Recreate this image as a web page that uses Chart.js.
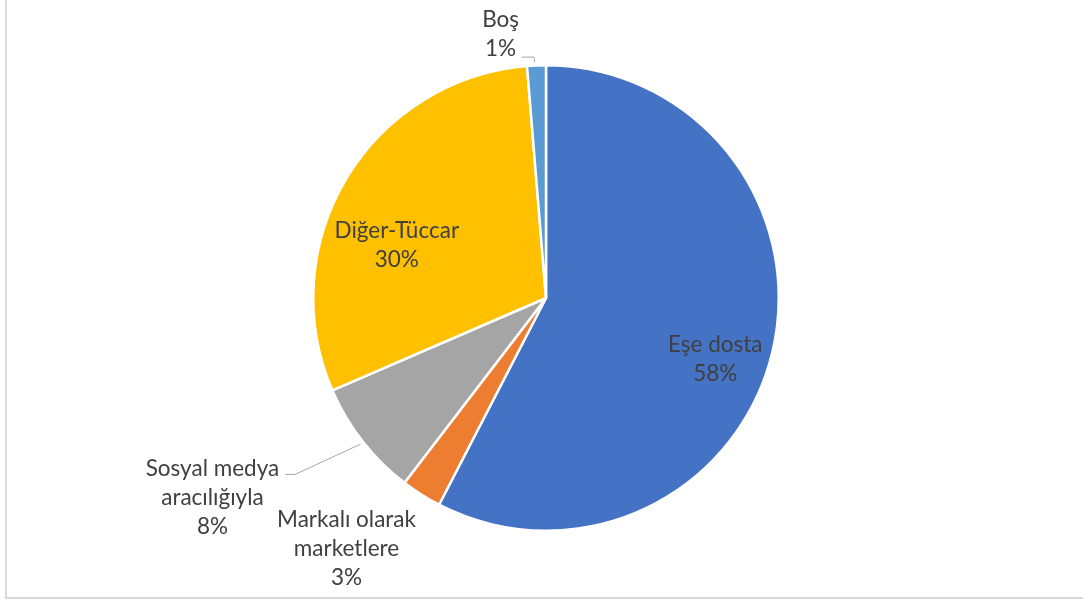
<!DOCTYPE html>
<html>
<head>
<meta charset="utf-8">
<script src="https://cdn.jsdelivr.net/npm/chart.js@4"></script>
<style>
  html, body { margin: 0; padding: 0; background: #ffffff; overflow: hidden; }
  #frame { position: absolute; left: 5px; top: -4px; width: 1100px; height: 603px; box-sizing: border-box; border: 2px solid #d9d9d9; }
  #wrap { position: absolute; left: 0; top: 0; width: 1083px; height: 603px; }
</style>
</head>
<body>
<div id="frame"></div>
<div id="wrap"><canvas id="c" width="1083" height="603"></canvas></div>
<script>
// ---- data ----
const categories = ["Eşe dosta", "Markalı olarak marketlere", "Sosyal medya aracılığıyla", "Diğer-Tüccar", "Boş"];
const labelLines = [["Eşe dosta"], ["Markalı olarak", "marketlere"], ["Sosyal medya", "aracılığıyla"], ["Diğer-Tüccar"], ["Boş"]];
const values = [57.6, 2.8, 8.1, 30.2, 1.3];
const colors = ["#4472C4", "#ED7D31", "#A5A5A5", "#FFC000", "#5B9BD5"];

// ---- label layout (relative to pie centre, in units of radius) ----
const labelLayout = [
  { x: 0.727, y: 0.264 },
  { x: -0.857, y: 1.078 },
  { x: -1.433, y: 0.857 },
  { x: -0.641, y: -0.225 },
  { x: -0.195, y: -1.134 }
];
const leaderLines = {
  2: [[-1.121, 0.758], [-1.078, 0.758], [-0.797, 0.628]],
  4: [[-0.104, -1.035], [-0.052, -1.035], [-0.048, -1.013]]
};

const FONT = "22.5px Lato, 'Noto Sans', sans-serif";
const LINE_H = 29;

const labelPlugin = {
  id: 'pieLabels',
  afterDatasetsDraw(chart) {
    const ctx = chart.ctx;
    const meta = chart.getDatasetMeta(0);
    const arc0 = meta.data[0];
    const cx = arc0.x, cy = arc0.y, r = arc0.outerRadius;
    const total = values.reduce((a, b) => a + b, 0);
    ctx.save();
    ctx.strokeStyle = '#A6A6A6';
    ctx.lineWidth = 1;
    Object.keys(leaderLines).forEach(k => {
      const pts = leaderLines[k];
      ctx.beginPath();
      pts.forEach((p, i) => {
        const px = cx + p[0] * r, py = cy + p[1] * r;
        if (i === 0) ctx.moveTo(px, py); else ctx.lineTo(px, py);
      });
      ctx.stroke();
    });
    ctx.font = FONT;
    ctx.fillStyle = '#404040';
    ctx.textAlign = 'center';
    ctx.textBaseline = 'middle';
    meta.data.forEach((arc, i) => {
      const lines = labelLines[i].concat([Math.round(values[i] / total * 100) + '%']);
      const lx = cx + labelLayout[i].x * r;
      const ly = cy + labelLayout[i].y * r;
      const startY = ly - (lines.length - 1) * LINE_H / 2;
      lines.forEach((t, j) => ctx.fillText(t, lx, startY + j * LINE_H));
    });
    ctx.restore();
  }
};

new Chart(document.getElementById('c'), {
  type: 'pie',
  data: {
    labels: categories,
    datasets: [{
      data: values,
      backgroundColor: colors,
      borderColor: '#ffffff',
      borderWidth: 2.5
    }]
  },
  options: {
    responsive: false,
    animation: false,
    layout: { padding: { left: 9, right: 0, top: 64, bottom: 71 } },
    plugins: {
      legend: { display: false },
      tooltip: { enabled: false }
    }
  },
  plugins: [labelPlugin]
});
</script>
</body>
</html>
